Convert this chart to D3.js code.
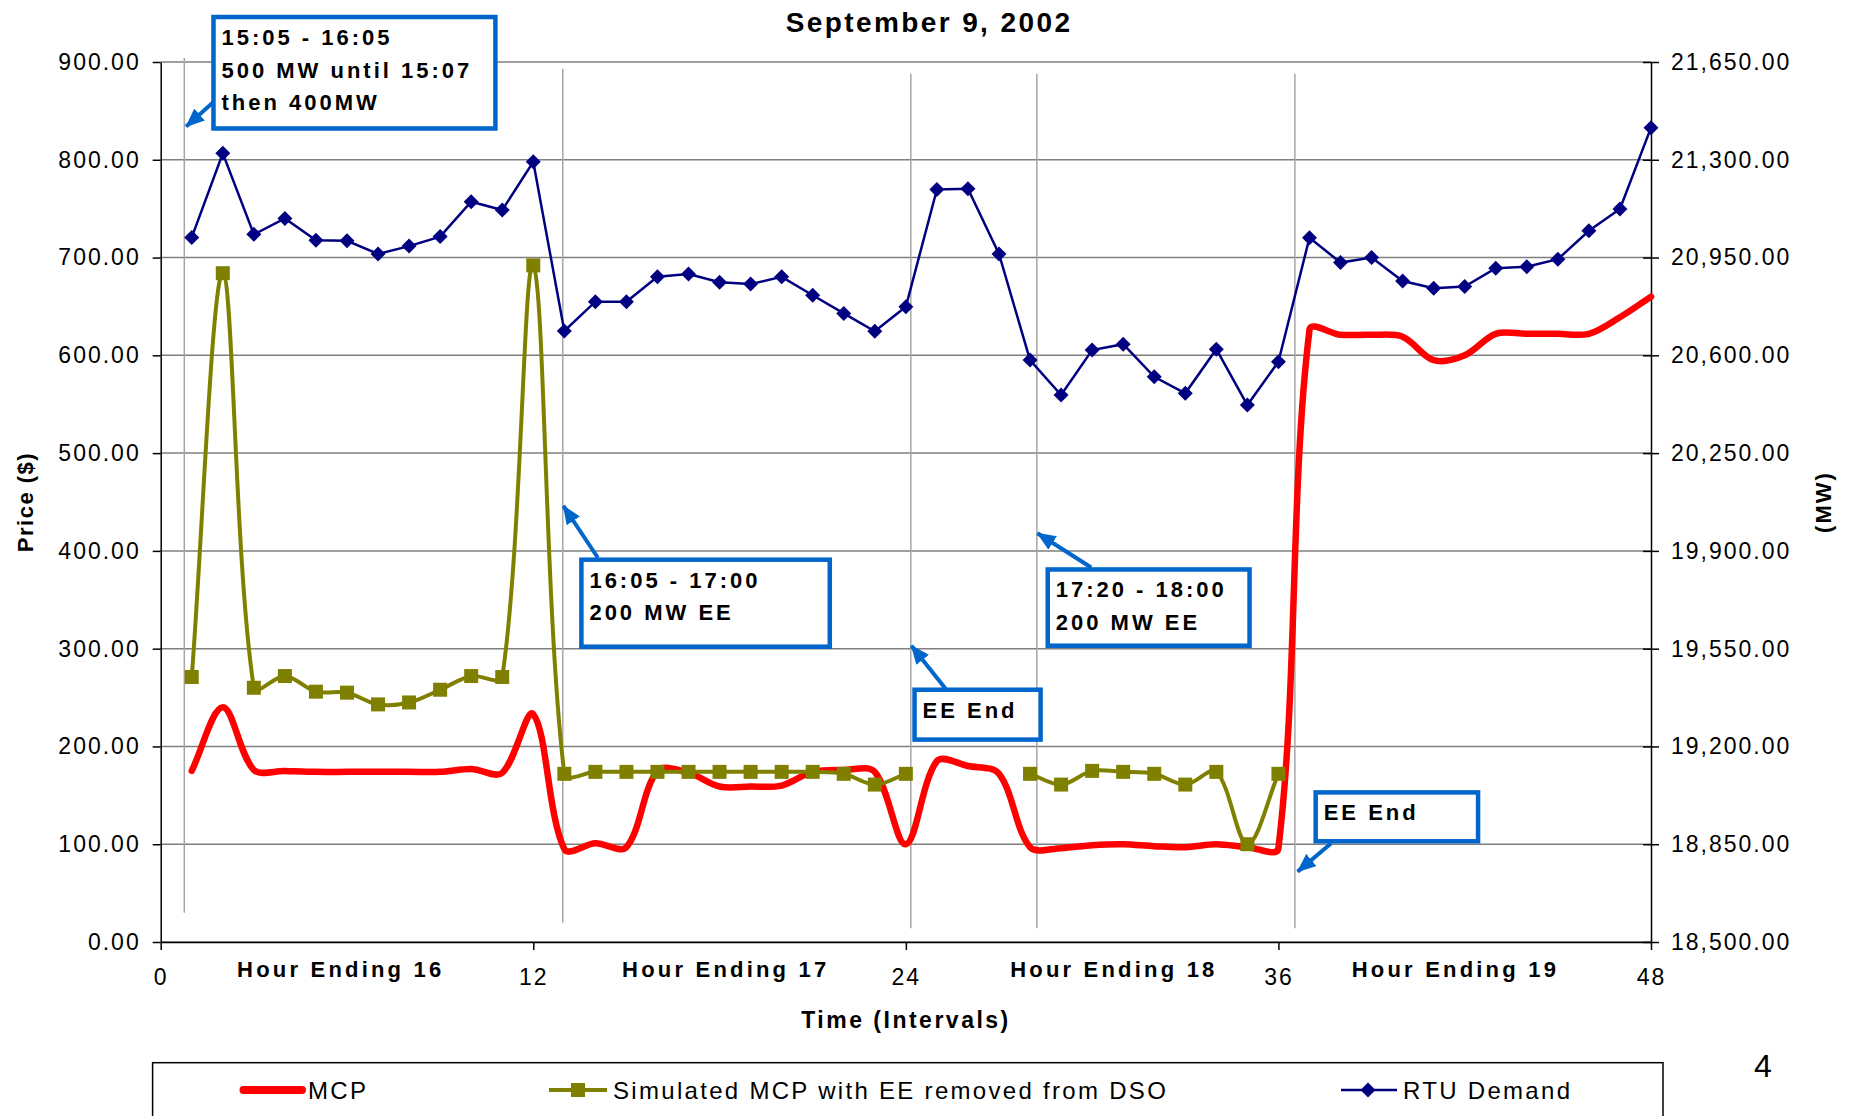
<!DOCTYPE html>
<html lang="en">

<head>
<meta http-equiv="Content-Type" content="text/html; charset=utf-8" />
<title>September 9, 2002 - MCP, Simulated MCP and RTU Demand</title>
<style>
   body { margin:0px; padding:0px; background:white; }
   svg { display:block; font-family:"Liberation Sans",Arial,sans-serif; }
   .grid line { stroke:#7f7f7f; stroke-width:1.5; }
   .vline { stroke:#a6a6a6; stroke-width:1.5; }
   .axis path, .axis line { stroke:black; stroke-width:1.5; }
   .axis text { font-family:"Liberation Sans",Arial,sans-serif; font-size:23px; letter-spacing:2px; fill:black; }
   .lbl { font-weight:bold; fill:black; }
   .note rect { fill:white; stroke:#0066cc; stroke-width:4.5; }
   .note text { font-size:22px; font-weight:bold; letter-spacing:3px; fill:black; }
   .arrow { stroke:#0066cc; stroke-width:4; fill:none; }
   .legend text { font-size:24px; letter-spacing:2.3px; fill:black; }
</style>
<script src="https://d3js.org/d3.v7.min.js"></script>
</head>

<body>
<svg id="main" width="1853" height="1116"></svg>

<script>
//5 minute intervals, hour ending 16 to hour ending 19
var intervals = d3.range(1,49);
//MCP ($)
var mcp = [175,240,176,175,174,174,174,174,174,177,173,233,
   95,101,97,175,173,159,159,160,174,176,174,100,
   185,180,172,97,96,99,100,98,97,100,97,96,
   626,621,621,619,595,600,622,622,622,622,639,660];
//simulated MCP with EE removed from DSO ($), no values for 25-27 and after 36
var sim_mcp = [271,684,260,272,256,255,243,245,258,272,271,692,
   172,174,174,174,174,174,174,174,174,172,161,172,
   null,null,null,172,161,175,174,172,161,174,100,172,
   null,null,null,null,null,null,null,null,null,null,null,null];
//RTU demand (MW)
var rtu_demand = [21022,21323,21033,21090,21012,21010,20963,20991,21025,21150,21120,21293,
   20687,20792,20792,20881,20891,20862,20855,20881,20815,20750,20686,20774,
   21194,21196,20963,20583,20458,20619,20640,20523,20464,20622,20422,20577,
   21021,20932,20950,20866,20840,20846,20912,20917,20944,21046,21124,21415];

var price_ticks = [0,100,200,300,400,500,600,700,800,900];
var mw_ticks = [18500,18850,19200,19550,19900,20250,20600,20950,21300,21650];
var x_ticks = [0,12,24,36,48];
var hour_labels = ['Hour Ending 16','Hour Ending 17','Hour Ending 18','Hour Ending 19'];
var hour_pos = [5.8,18.2,30.7,41.7];

//vertical event lines (interval, price from/to)
var event_lines = [
   {x:0.76,y0:30,y1:904},
   {x:12.95,y0:20,y1:893},
   {x:24.16,y0:14,y1:888},
   {x:28.22,y0:14,y1:888},
   {x:36.53,y0:14,y1:888}
];
//text boxes with arrows (interval / price units)
var notes = [
   {x0:1.70,x1:10.78,y0:946,y1:832,lines:['15:05 - 16:05','500 MW until 15:07','then 400MW'],tail:[1.70,859],tip:[0.82,834]},
   {x0:13.55,x1:21.55,y0:391,y1:302,lines:['16:05 - 17:00','200 MW EE'],tail:[14.08,393],tip:[12.97,446]},
   {x0:28.57,x1:35.07,y0:381,y1:303,lines:['17:20 - 18:00','200 MW EE'],tail:[29.97,383],tip:[28.24,418]},
   {x0:24.28,x1:28.34,y0:258,y1:207,lines:['EE End'],tail:[25.28,259],tip:[24.18,303]},
   {x0:37.2,x1:42.43,y0:153,y1:103,lines:['EE End'],tail:[37.7,101],tip:[36.62,72]}
];

var c_mcp = '#ff0000', c_sim = '#808000', c_rtu = '#000080';

function fdiamond(r) { return 'M0,'+(-r)+'L'+r+',0L0,'+r+'L'+(-r)+',0Z'; };
function fdist(a,b) { return Math.hypot(b[0]-a[0],b[1]-a[1]); };

//spreadsheet style smoothing: bezier handles along the neighbour chord,
//weighted by segment lengths so a steep jump doesn't make the flat parts overshoot
function CurveSheet(context) { this._context = context; };
CurveSheet.prototype = {
   areaStart: function() { this._line = 0; },
   areaEnd: function() { this._line = NaN; },
   lineStart: function() { this._pts = []; },
   point: function(px,py) { this._pts.push([+px,+py]); },
   lineEnd: function() {
      var p = this._pts, n = p.length, c = this._context;
      if (!n) { return; };
      c.moveTo(p[0][0],p[0][1]);
      for (var i=0; i<n-1; i++) {
         var p0 = p[i-1]||p[i], p1 = p[i], p2 = p[i+1], p3 = p[i+2]||p[i+1];
         var d01 = fdist(p0,p1), d12 = fdist(p1,p2), d23 = fdist(p2,p3);
         var f1 = (d01+d12>0) ? d12/(d01+d12)/3 : 0;
         var f2 = (d12+d23>0) ? d12/(d12+d23)/3 : 0;
         c.bezierCurveTo(
            p1[0]+(p2[0]-p0[0])*f1, p1[1]+(p2[1]-p0[1])*f1,
            p2[0]-(p3[0]-p1[0])*f2, p2[1]-(p3[1]-p1[1])*f2,
            p2[0], p2[1]);
      };
   }
};
function fcurvesheet(context) { return new CurveSheet(context); };

var svg = d3.select('#main');
var x = d3.scaleLinear().domain([0,48]).range([160.7,1651]);
var yl = d3.scaleLinear().domain([0,900]).range([942,62]);
var yr = d3.scaleLinear().domain([18500,21650]).range([942,62]);

//arrow head
svg.append('defs').append('marker')
   .attr('id','head')
   .attr('markerUnits','userSpaceOnUse')
   .attr('markerWidth',20).attr('markerHeight',16)
   .attr('refX',18).attr('refY',8)
   .attr('orient','auto')
   .append('path').attr('d','M0,0L19,8L0,16Z').attr('fill','#0066cc');

//horizontal grid
svg.append('g').attr('class','grid')
   .selectAll('line').data(price_ticks).enter().append('line')
   .attr('x1',x(0)).attr('x2',x(48))
   .attr('y1',d=>yl(d)).attr('y2',d=>yl(d));

//event lines
svg.append('g').selectAll('line').data(event_lines).enter().append('line')
   .attr('class','vline')
   .attr('x1',d=>x(d.x)).attr('x2',d=>x(d.x))
   .attr('y1',d=>yl(d.y1)).attr('y2',d=>yl(d.y0));

//axes
var axl = svg.append('g').attr('class','axis')
   .attr('transform','translate('+x(0)+',0)')
   .call(d3.axisLeft(yl).tickValues(price_ticks).tickFormat(d3.format('.2f')).tickSize(8).tickSizeOuter(0).tickPadding(12));
var axr = svg.append('g').attr('class','axis')
   .attr('transform','translate('+x(48)+',0)')
   .call(d3.axisRight(yr).tickValues(mw_ticks).tickFormat(d3.format(',.2f')).tickSize(8).tickSizeOuter(0).tickPadding(12));
axr.selectAll('.tick line').attr('x1',-8);
var axb = svg.append('g').attr('class','axis')
   .attr('transform','translate(0,'+yl(0)+')')
   .call(d3.axisBottom(x).tickValues(x_ticks).tickFormat(d3.format('d')).tickSize(8).tickSizeOuter(0).tickPadding(19));
axb.select('.domain').attr('stroke-width',2.5);

//series
var lmcp = d3.line().x((d,i)=>x(intervals[i])).y(d=>yl(d)).curve(fcurvesheet);
var lsim = d3.line().defined(d=>d!==null).x((d,i)=>x(intervals[i])).y(d=>yl(d)).curve(fcurvesheet);
var lrtu = d3.line().x((d,i)=>x(intervals[i])).y(d=>yr(d));

svg.append('path').datum(mcp).attr('d',lmcp)
   .attr('fill','none').attr('stroke',c_mcp).attr('stroke-width',6.5).attr('stroke-linejoin','round').attr('stroke-linecap','round');
svg.append('path').datum(sim_mcp).attr('d',lsim)
   .attr('fill','none').attr('stroke',c_sim).attr('stroke-width',4);
svg.append('g').selectAll('rect').data(intervals.filter((d,i)=>sim_mcp[i]!==null)).enter().append('rect')
   .attr('x',d=>x(d)-7).attr('y',d=>yl(sim_mcp[d-1])-7)
   .attr('width',14).attr('height',14).attr('fill',c_sim);
svg.append('path').datum(rtu_demand).attr('d',lrtu)
   .attr('fill','none').attr('stroke',c_rtu).attr('stroke-width',2.5);
svg.append('g').selectAll('path').data(intervals).enter().append('path')
   .attr('transform',d=>'translate('+x(d)+','+yr(rtu_demand[d-1])+')')
   .attr('d',fdiamond(7.5)).attr('fill',c_rtu);

//notes
var gn = svg.append('g').attr('class','note').selectAll('g').data(notes).enter().append('g');
gn.append('line').attr('class','arrow')
   .attr('x1',d=>x(d.tail[0])).attr('y1',d=>yl(d.tail[1]))
   .attr('x2',d=>x(d.tip[0])).attr('y2',d=>yl(d.tip[1]))
   .attr('marker-end','url(#head)');
gn.append('rect')
   .attr('x',d=>x(d.x0)).attr('y',d=>yl(d.y0))
   .attr('width',d=>x(d.x1)-x(d.x0)).attr('height',d=>yl(d.y1)-yl(d.y0));
gn.each(function(d) {
   var g = d3.select(this);
   d.lines.forEach(function(t,k) {
      g.append('text').attr('x',x(d.x0)+8).attr('y',yl(d.y0)+28+k*32.5).text(t);
   });
});

//titles
svg.append('text').attr('class','lbl').attr('x',929).attr('y',32)
   .attr('text-anchor','middle').style('font-size','28px').style('letter-spacing','2.4px')
   .text('September 9, 2002');
svg.append('g').selectAll('text').data(hour_labels).enter().append('text')
   .attr('class','lbl').attr('x',(d,i)=>x(hour_pos[i])).attr('y',yl(0)+35)
   .attr('text-anchor','middle').style('font-size','22px').style('letter-spacing','3.2px')
   .text(d=>d);
svg.append('text').attr('class','lbl').attr('x',906).attr('y',1028)
   .attr('text-anchor','middle').style('font-size','23px').style('letter-spacing','2.5px')
   .text('Time (Intervals)');
svg.append('text').attr('class','lbl')
   .attr('transform','translate(33,'+yl(450)+') rotate(-90)')
   .attr('text-anchor','middle').style('font-size','22px').style('letter-spacing','1.5px')
   .text('Price ($)');
svg.append('text').attr('class','lbl')
   .attr('transform','translate(1831,'+yl(450)+') rotate(-90)')
   .attr('text-anchor','middle').style('font-size','22px').style('letter-spacing','2px')
   .text('(MW)');

//legend
var lg = svg.append('g').attr('class','legend');
lg.append('rect').attr('x',152.6).attr('y',1062.7).attr('width',1510.4).attr('height',90)
   .attr('fill','none').attr('stroke','black').attr('stroke-width',1.5);
lg.append('line').attr('x1',243.5).attr('x2',302).attr('y1',1090).attr('y2',1090)
   .attr('stroke',c_mcp).attr('stroke-width',8).attr('stroke-linecap','round');
lg.append('text').attr('x',308).attr('y',1099).text('MCP');
lg.append('line').attr('x1',549).attr('x2',607).attr('y1',1090).attr('y2',1090)
   .attr('stroke',c_sim).attr('stroke-width',4);
lg.append('rect').attr('x',571).attr('y',1083).attr('width',14).attr('height',14).attr('fill',c_sim);
lg.append('text').attr('x',613).attr('y',1099).text('Simulated MCP with EE removed from DSO');
lg.append('line').attr('x1',1341).attr('x2',1397).attr('y1',1090).attr('y2',1090)
   .attr('stroke',c_rtu).attr('stroke-width',2.5);
lg.append('path').attr('transform','translate(1368,1090)').attr('d',fdiamond(7.5)).attr('fill',c_rtu);
lg.append('text').attr('x',1403).attr('y',1099).text('RTU Demand');

//page number
svg.append('text').attr('x',1763).attr('y',1077).attr('text-anchor','middle')
   .style('font-size','32px').text('4');
</script>
</body>
</html>
